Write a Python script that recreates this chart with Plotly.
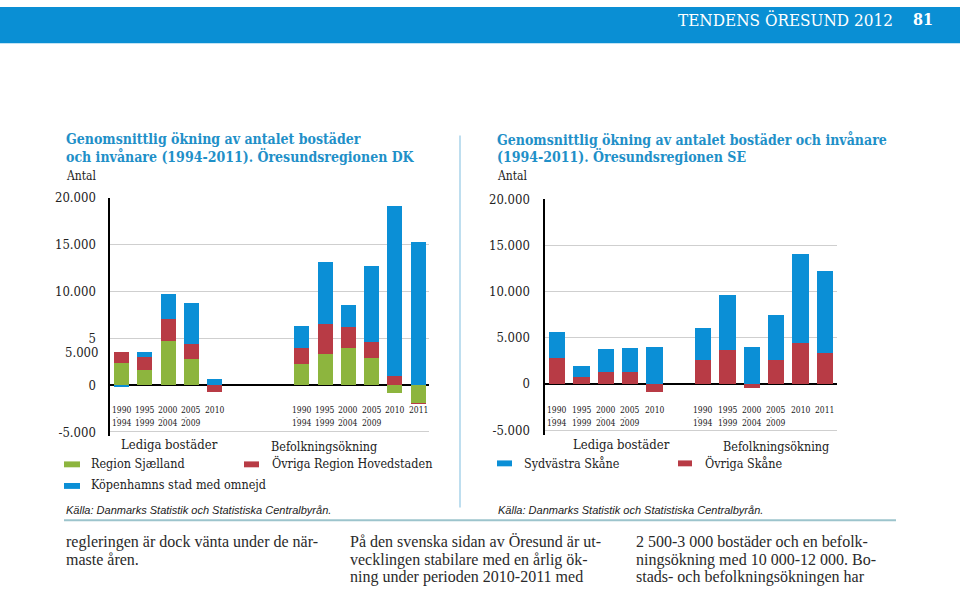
import plotly.graph_objects as go

W, H = 960, 593


def px(x):
    return x / W


def py(y):
    return 1 - y / H


# ---------------- data ----------------
periods_row1_dk = ["1990", "1995", "2000", "2005", "2010", "1990", "1995", "2000", "2005", "2010", "2011"]
periods_row2_dk = ["1994", "1999", "2004", "2009", "", "1994", "1999", "2004", "2009", "", ""]
periods_row1_se = periods_row1_dk
periods_row2_se = periods_row2_dk

# DK: Lediga bostäder (5 periods) + Befolkningsökning (6 periods)
dk_sjaelland = [2330, 1640, 4710, 2750, 0, 2230, 3350, 4010, 2890, -810, -1900]
dk_ovriga = [1190, 1330, 2340, 1610, -770, 1780, 3140, 2170, 1680, 970, -100]
dk_kbh = [-250, 590, 2690, 4410, 660, 2280, 6640, 2370, 8110, 18210, 15300]

# SE
se_ovriga = [2830, 780, 1310, 1310, -880, 2550, 3680, -460, 2550, 4460, 3290]
se_sydvast = [2730, 1130, 2410, 2590, 4000, 3540, 5880, 4000, 4850, 9560, 8960]

y_tickvals = [-5000, 0, 5000, 10000, 15000, 20000]
y_ticktext_dk = ["-5.000", "0", "5", "10.000", "15.000", "20.000"]
y_ticktext_se = ["-5.000", "0", "5.000", "10.000", "15.000", "20.000"]

# group layout (slot indices): 5 "Lediga" bars, gap, 6 "Befolkning" bars
n_led = 5
dk_gap = 7.75
se_gap = 6
x_dk = [i for i in range(n_led)] + [dk_gap + j for j in range(6)]
x_se = [i for i in range(n_led)] + [se_gap + j for j in range(6)]

GREEN = "#8db53e"
RED = "#b83b45"
BLUE = "#0b8fd6"
TITLE_BLUE = "#1f90c8"
SERIF = "DejaVu Serif Condensed, DejaVu Serif, serif"
BODY = "Liberation Serif, serif"
INK = "#222222"

fig = go.Figure()
fig.add_trace(go.Bar(x=x_dk, y=dk_sjaelland, marker_color=GREEN, width=0.645, xaxis="x", yaxis="y", name="Region Sjælland"))
fig.add_trace(go.Bar(x=x_dk, y=dk_ovriga, marker_color=RED, width=0.645, xaxis="x", yaxis="y", name="Övriga Region Hovedstaden"))
fig.add_trace(go.Bar(x=x_dk, y=dk_kbh, marker_color=BLUE, width=0.645, xaxis="x", yaxis="y", name="Köpenhamns stad med omnejd"))
fig.add_trace(go.Bar(x=x_se, y=se_ovriga, marker_color=RED, width=0.66, xaxis="x2", yaxis="y2", name="Övriga Skåne"))
fig.add_trace(go.Bar(x=x_se, y=se_sydvast, marker_color=BLUE, width=0.66, xaxis="x2", yaxis="y2", name="Sydvästra Skåne"))
for tr in fig.data:
    tr.marker.line.width = 0
    tr.hoverinfo = "skip"

yaxis_common = dict(
    tickvals=y_tickvals,
    showgrid=True, gridcolor="#cfcfcf", gridwidth=1,
    zeroline=True, zerolinecolor="black", zerolinewidth=2,
    showline=True, linecolor="black", linewidth=2.5,
    ticks="outside", tickcolor="rgba(0,0,0,0)",
    tickfont=dict(family=SERIF, size=13, color=INK),
    layer="above traces",
    fixedrange=True,
)
xaxis_common = dict(showgrid=False, zeroline=False, showticklabels=False, showline=False, ticks="", fixedrange=True)

fig.update_layout(
    width=W, height=H,
    margin=dict(l=0, r=0, t=0, b=0),
    paper_bgcolor="white", plot_bgcolor="rgba(0,0,0,0)",
    barmode="relative", bargap=0, showlegend=False,
    xaxis=dict(domain=[px(110), px(429)], range=[-0.5, 13.22], anchor="y", **xaxis_common),
    yaxis=dict(domain=[py(436.8), py(194.5)], range=[-5400, 20000], anchor="x",
               ticktext=y_ticktext_dk, ticklen=9, **yaxis_common),
    xaxis2=dict(domain=[px(545), px(837)], range=[-0.5, 11.5], anchor="y2", **xaxis_common),
    yaxis2=dict(domain=[py(435.8), py(195.6)], range=[-5500, 20000], anchor="x2",
                ticktext=y_ticktext_se, ticklen=10, **yaxis_common),
)

ann = []
shapes = []


def text(x, y, s, size=12, color=INK, family=SERIF, xanchor="left", yanchor="middle", xref="paper", yref="paper", **kw):
    ann.append(dict(x=px(x) if xref == "paper" else x, y=py(y) if yref == "paper" else y, text=s,
                    showarrow=False, xref=xref, yref=yref, xanchor=xanchor, yanchor=yanchor,
                    font=dict(family=family, size=size, color=color), **kw))


# header band
shapes.append(dict(type="rect", xref="paper", yref="paper", x0=0, x1=1, y0=py(37), y1=1,
                   fillcolor="#0a8fd4", line=dict(width=0), layer="below"))
text(676, 13, "TENDENS ÖRESUND 2012", size=17, color="white")
text(935, 13, "<b>81</b>", size=16, color="white", xanchor="right")

# titles
text(64, 135, "<b>Genomsnittlig ökning av antalet bostäder</b>", size=14, color=TITLE_BLUE)
text(64, 152, "<b>och invånare (1994-2011). Öresundsregionen DK</b>", size=14, color=TITLE_BLUE)
text(64, 172, "Antal", size=12)
text(495, 135, "<b>Genomsnittlig ökning av antalet bostäder och invånare</b>", size=14, color=TITLE_BLUE)
text(495, 152, "<b>(1994-2011). Öresundsregionen SE</b>", size=14, color=TITLE_BLUE)
text(495, 172, "Antal", size=12)

# extra "5.000" label of the DK axis (as printed in the source)
text(100, 352, "5.000", size=13, xanchor="right")

# x period labels
for xs, xr, r1, r2 in [(x_dk, "x", periods_row1_dk, periods_row2_dk), (x_se, "x2", periods_row1_se, periods_row2_se)]:
    for xv, a, b in zip(xs, r1, r2):
        ann.append(dict(x=xv, y=py(411), xref=xr, yref="paper", text=a, showarrow=False,
                        xanchor="center", yanchor="middle", font=dict(family=SERIF, size=8.5, color=INK)))
        if b:
            ann.append(dict(x=xv, y=py(424), xref=xr, yref="paper", text=b, showarrow=False,
                            xanchor="center", yanchor="middle", font=dict(family=SERIF, size=8.5, color=INK)))
            ann.append(dict(x=xv, y=py(417), xref=xr, yref="paper", text="-", showarrow=False, xshift=-5,
                            xanchor="center", yanchor="middle", font=dict(family=SERIF, size=6, color=INK)))

# legends DK
text(119, 446, "Lediga bostäder", size=13)
text(269, 448, "Befolkningsökning", size=12.5)
shapes.append(dict(type="rect", xref="paper", yref="paper", x0=px(64), x1=px(80), y0=py(469), y1=py(463), fillcolor=GREEN, line=dict(width=0)))
text(89, 465, "Region Sjælland", size=12.5)
shapes.append(dict(type="rect", xref="paper", yref="paper", x0=px(244), x1=px(259), y0=py(469), y1=py(463), fillcolor=RED, line=dict(width=0)))
text(270, 465, "Övriga Region Hovedstaden", size=12.5)
shapes.append(dict(type="rect", xref="paper", yref="paper", x0=px(64), x1=px(80), y0=py(491), y1=py(485), fillcolor=BLUE, line=dict(width=0)))
text(89, 487, "Köpenhamns stad med omnejd", size=12.5)
text(64, 512, "<i>Källa: Danmarks Statistik och Statistiska Centralbyrån.</i>", size=11, family="Liberation Sans, Arial, sans-serif")

# legends SE
text(571, 446, "Lediga bostäder", size=13)
text(721, 448, "Befolkningsökning", size=12.5)
shapes.append(dict(type="rect", xref="paper", yref="paper", x0=px(497), x1=px(512), y0=py(468), y1=py(462), fillcolor=BLUE, line=dict(width=0)))
text(522, 465, "Sydvästra Skåne", size=12.5)
shapes.append(dict(type="rect", xref="paper", yref="paper", x0=px(678), x1=px(692), y0=py(468), y1=py(462), fillcolor=RED, line=dict(width=0)))
text(703, 465, "Övriga Skåne", size=12.5)
text(496, 512, "<i>Källa: Danmarks Statistik och Statistiska Centralbyrån.</i>", size=11, family="Liberation Sans, Arial, sans-serif")

# divider and bottom rule
shapes.append(dict(type="line", xref="paper", yref="paper", x0=px(460), x1=px(460), y0=py(131), y1=py(510),
                   line=dict(color="#a9d3ea", width=1.5)))
shapes.append(dict(type="line", xref="paper", yref="paper", x0=px(64), x1=px(896), y0=py(523), y1=py(523),
                   line=dict(color="#9cc4cc", width=2)))

# body text columns
col1 = ["regleringen är dock vänta under de när-", "maste åren."]
col2 = ["På den svenska sidan av Öresund är ut-", "vecklingen stabilare med en årlig ök-", "ning under perioden 2010-2011 med"]
col3 = ["2 500-3 000 bostäder och en befolk-", "ningsökning med 10 000-12 000. Bo-", "stads- och befolkningsökningen har"]
for cx, lines in [(64, col1), (348, col2), (634, col3)]:
    for i, line in enumerate(lines):
        text(cx, 545 + 18 * i, line, size=16, family=BODY, color="#2a2a2a")

fig.update_layout(annotations=ann, shapes=shapes)
fig.write_html(
    "out.html",
    config={"displayModeBar": False, "staticPlot": True},
    post_script=(
        "var d=document.getElementById('{plot_id}');"
        "d.style.position='fixed';d.style.top='0px';d.style.left='0px';"
        "document.body.style.margin='0';document.body.style.overflow='hidden';"
        "document.documentElement.style.overflow='hidden';"
    ),
)
